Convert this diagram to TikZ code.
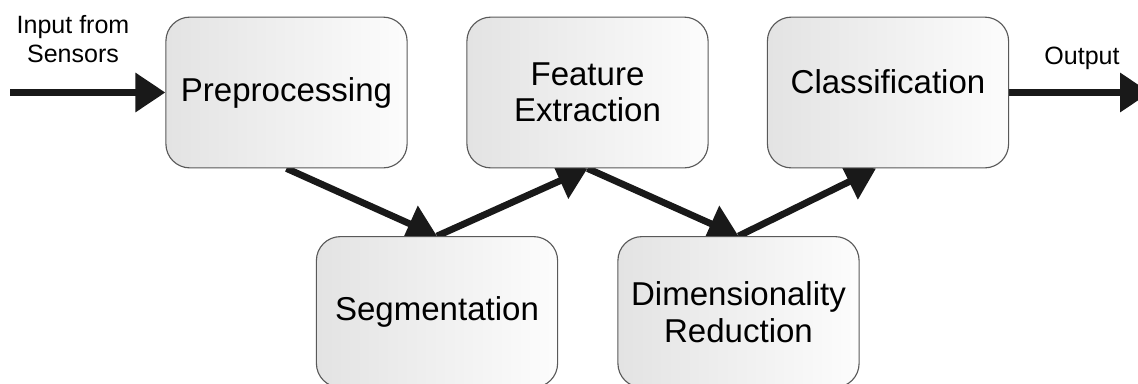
\documentclass[tikz,border=0pt]{standalone}
\usepackage{fontspec}
\setmainfont{Liberation Sans}
\usetikzlibrary{arrows.meta}
\pgfdeclarelayer{background}
\pgfsetlayers{background,main}

\tikzset{
stage/.style={draw=black!65,line width=0.8pt,rounded corners=0.6cm,left color=black!11,right color=black!1,
 minimum width=6.03cm,minimum height=3.77cm,align=center,inner sep=0pt,font=\fontsize{23.5}{26}\selectfont},
flow/.style={draw=black!90,line width=0.17cm,-{Triangle[length=0.75cm,width=0.95cm]}},
iotext/.style={align=center,font=\fontsize{17.8}{21}\selectfont}
}

\begin{document}
\begin{tikzpicture}
\useasboundingbox (0,0) rectangle (28.45cm,-9.575cm);
%upper row
\node[stage] (prep) at (7.1625cm,-2.3125cm) {Preprocessing};
\node[stage] (feat) at (14.6875cm,-2.3125cm) {Feature\\Extraction};
\node[stage,text depth=0.55cm] (class) at (22.2cm,-2.3125cm) {Classification};
%lower row
\node[stage] (seg) at (10.925cm,-7.8cm) {Segmentation};
\node[stage] (dim) at (18.4625cm,-7.8cm) {Dimensionality\\Reduction};
%in and out
\node[iotext] (intext) at (1.825cm,-0.975cm) {Input from\\Sensors};
\node[iotext] (outtext) at (27.05cm,-1.46cm) {Output};
\coordinate (in) at (0.25cm,-2.3125cm);
\coordinate (out) at (28.75cm,-2.3125cm);
\begin{pgfonlayer}{background}
\draw[flow] (in) -- (prep.west);
\draw[flow] (prep.south) -- (seg.north);
\draw[flow] (seg.north) -- (feat.south);
\draw[flow] (feat.south) -- (dim.north);
\draw[flow] (dim.north) -- ([xshift=-0.3cm]class.south);
\draw[flow] (class.east) -- (out);
\end{pgfonlayer}
\end{tikzpicture}
\end{document}
